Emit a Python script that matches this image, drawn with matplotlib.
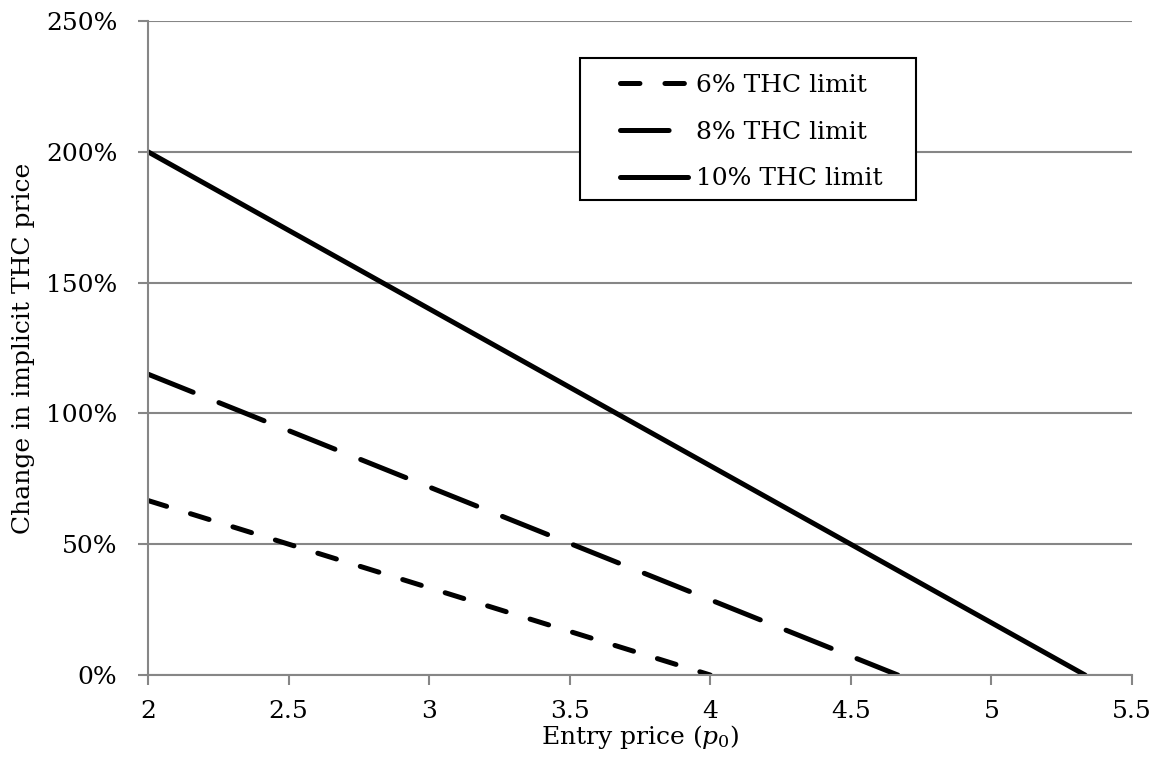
import matplotlib
matplotlib.use("Agg")
import matplotlib.pyplot as plt
from matplotlib.patches import Rectangle
from matplotlib.ticker import FuncFormatter

# Entry price endpoints and the change in implicit THC price (%)
entry_price = {
    "6% THC limit": [2.0, 4.0],
    "8% THC limit": [2.0, 4.667],
    "10% THC limit": [2.0, 5.333],
}
price_change = {
    "6% THC limit": [66.7, 0.0],
    "8% THC limit": [115.0, 0.0],
    "10% THC limit": [200.0, 0.0],
}
dash_styles = {
    "6% THC limit": (0, (14, 18)),
    "8% THC limit": (0, (35, 20)),
    "10% THC limit": "-",
}

x_ticks = [2, 2.5, 3, 3.5, 4, 4.5, 5, 5.5]
y_ticks = [0, 50, 100, 150, 200, 250]


def main():
    plt.rcParams["font.family"] = ["DejaVu Serif"]
    plt.rcParams["mathtext.fontset"] = "dejavuserif"
    plt.rcParams["lines.scale_dashes"] = False
    fs = 18
    grey = "#868686"

    fig = plt.figure(figsize=(11.61, 7.69), dpi=100)
    ax = fig.add_axes([0.1275, 0.1222, 0.8475, 0.8505])

    for name in entry_price:
        ax.plot(entry_price[name], price_change[name], color="black", lw=3.6,
                linestyle=dash_styles[name], solid_capstyle="round",
                dash_capstyle="round", label=name)

    ax.set_xlim(2, 5.5)
    ax.set_ylim(0, 250)
    ax.set_xticks(x_ticks)
    ax.set_yticks(y_ticks)
    ax.xaxis.set_major_formatter(FuncFormatter(lambda v, p: f"{v:g}"))
    ax.yaxis.set_major_formatter(FuncFormatter(lambda v, p: f"{v:.0f}%"))
    ax.grid(axis="y", color=grey, lw=1.5)
    ax.set_axisbelow(True)
    for side in ["top", "right"]:
        ax.spines[side].set_visible(False)
    for side in ["left", "bottom"]:
        ax.spines[side].set_color(grey)
        ax.spines[side].set_linewidth(1.5)
    ax.tick_params(colors=grey, width=1.5, length=7, labelsize=fs,
                   labelcolor="black")
    ax.tick_params(axis="x", pad=11)
    ax.tick_params(axis="y", pad=15)

    ax.set_xlabel("Entry price ($p_0$)", fontsize=fs, labelpad=0)
    ax.set_ylabel("Change in implicit THC price", fontsize=fs, labelpad=8)

    # legend frame drawn separately: wider side padding than top/bottom
    ax.add_patch(Rectangle((0.439, 0.7263), 0.3415, 0.2171,
                           transform=ax.transAxes, facecolor="white",
                           edgecolor="black", lw=1.5, zorder=4))
    leg = ax.legend(loc="upper left", bbox_to_anchor=(0.4797, 0.919),
                    fontsize=fs, frameon=False, handlelength=2.7,
                    handletextpad=0.35, borderpad=0, labelspacing=0.95,
                    borderaxespad=0)
    leg.set_zorder(5)

    fig.savefig("out.png", dpi=100)


if __name__ == "__main__":
    main()
